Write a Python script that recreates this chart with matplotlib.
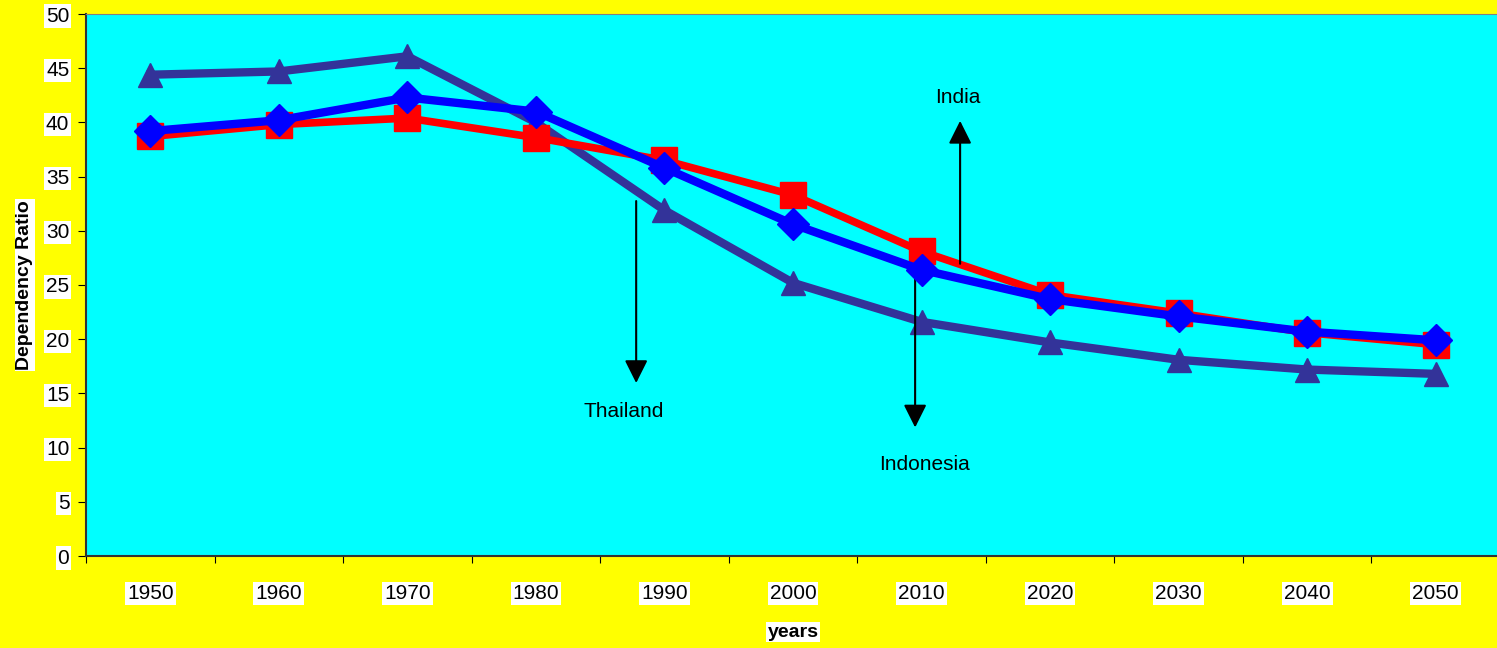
import matplotlib
matplotlib.use("Agg")
import matplotlib.pyplot as plt

# dependency ratio by decade
years = ["1950", "1960", "1970", "1980", "1990", "2000", "2010", "2020", "2030", "2040", "2050"]
india = [38.7, 39.8, 40.4, 38.6, 36.5, 33.3, 28.1, 24.1, 22.4, 20.6, 19.5]
thailand = [39.2, 40.2, 42.3, 41.0, 35.8, 30.6, 26.4, 23.7, 22.1, 20.7, 19.9]
indonesia = [44.4, 44.7, 46.1, 40.0, 31.9, 25.2, 21.6, 19.7, 18.1, 17.2, 16.8]

plt.rcParams['font.family'] = ['Liberation Sans', 'DejaVu Sans']

fig = plt.figure(figsize=(14.97, 6.48), dpi=100, facecolor="#FFFF00")
ax = fig.add_axes([86/1497, 1-556/648, 1414/1497, 542/648])
ax.set_facecolor("#00FFFF")

x = range(len(years))
ax.plot(x, india, color="#FF0000", lw=5.5, marker="s", ms=19, mec="#FF0000", zorder=3)
ax.plot(x, thailand, color="#0000FF", lw=6, marker="D", ms=16, mec="#0000FF", zorder=4)
ax.plot(x, indonesia, color="#333399", lw=6, marker="^", ms=17, mec="#333399", zorder=2)

ax.set_xlim(-0.5, len(years) - 0.5)
ax.set_ylim(0, 50)
ax.set_yticks(range(0, 51, 5))
ax.set_xticks([i + 0.5 for i in range(-1, len(years))])
ax.set_xticklabels([])
ax.set_xticks(list(x), minor=True)
ax.set_xticklabels(years, minor=True)
ax.tick_params(axis="x", which="minor", length=0, pad=20)
ax.tick_params(axis="x", which="major", direction="out", length=5)
ax.tick_params(axis="y", direction="out", length=6, pad=6)

box = dict(facecolor="white", edgecolor="none", pad=1.5)
for lab in ax.get_yticklabels() + ax.get_xticklabels(minor=True):
    lab.set_fontsize(15)
    lab.set_bbox(box)

for s in ["left", "bottom"]:
    ax.spines[s].set_color("#333333")
    ax.spines[s].set_linewidth(1.5)
ax.spines["top"].set_color("#808080")
ax.spines["right"].set_visible(False)

ax.set_ylabel("Dependency Ratio", fontsize=14, fontweight="bold", labelpad=9,
              bbox=dict(facecolor="white", edgecolor="none", pad=1))
ax.set_xlabel("years", fontsize=14, fontweight="bold", labelpad=15,
              bbox=dict(facecolor="white", edgecolor="none", pad=1))

arrow = dict(arrowstyle="-|>,head_width=0.7,head_length=1.4", color="black", lw=1.5)
ax.annotate("", xy=(6.30, 40.4), xytext=(6.30, 26.7), arrowprops=arrow)
ax.text(6.28, 41.4, "India", fontsize=15, ha="center", va="bottom")
ax.annotate("", xy=(3.78, 15.7), xytext=(3.78, 33.0), arrowprops=arrow)
ax.text(3.68, 14.2, "Thailand", fontsize=15, ha="center", va="top")
ax.annotate("", xy=(5.95, 11.6), xytext=(5.95, 26.0), arrowprops=arrow)
ax.text(6.02, 9.3, "Indonesia", fontsize=15, ha="center", va="top")

fig.savefig("out.png", dpi=100, facecolor=fig.get_facecolor())
